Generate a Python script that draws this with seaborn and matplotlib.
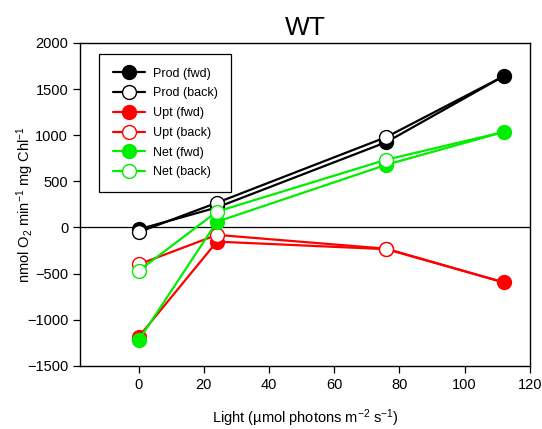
import numpy as np
import pandas as pd
import matplotlib
matplotlib.use("Agg")
import matplotlib.pyplot as plt
from matplotlib.lines import Line2D
import seaborn as sns

light = [0, 24, 76, 112]
prod_fwd = [-20, 217, 925, 1640]
prod_back = [-50, 268, 980, 1640]
upt_fwd = [-1185, -153, -235, -595]
upt_back = [-400, -80, -230, -595]
net_fwd = [-1222, 62, 680, 1035]
net_back = [-470, 172, 735, 1035]

series_names = ["Prod (fwd)", "Prod (back)", "Upt (fwd)", "Upt (back)", "Net (fwd)", "Net (back)"]
series_vals = [prod_fwd, prod_back, upt_fwd, upt_back, net_fwd, net_back]
colors = ["black", "black", "#ff0000", "#ff0000", "#00ee00", "#00ee00"]
filled = [True, False, True, False, True, False]

rows = []
for n, vals in zip(series_names, series_vals):
    for x, v in zip(light, vals):
        rows.append({"series": n, "light": x, "value": v})
df = pd.DataFrame(rows)

sns.set_theme(style="ticks")
plt.rcParams["font.family"] = ["Liberation Sans", "DejaVu Sans"]
plt.rcParams["mathtext.default"] = "regular"
plt.rcParams["text.color"] = "black"
plt.rcParams["axes.labelcolor"] = "black"

fig = plt.figure(figsize=(5.42, 4.29), dpi=100)
ax = fig.add_axes([0.1476, 0.147, 0.830, 0.753])

ax.axhline(0, color="black", lw=0.9, zorder=1)

handles = []
for n, c, f in zip(series_names, colors, filled):
    sub = df[df["series"] == n]
    kw = {}
    if not f:
        # the back sweep's last marker sits hidden under the fwd marker
        kw["markevery"] = [0, 1, 2]
    mfc = c if f else "white"
    sns.lineplot(data=sub, x="light", y="value", ax=ax, color=c, lw=1.6,
                 marker="o", markersize=10, markeredgecolor=c, markeredgewidth=1.0,
                 markerfacecolor=mfc, zorder=3, legend=False, **kw)
    handles.append(Line2D([], [], color=c, lw=1.6, marker="o", markersize=10,
                          markeredgecolor=c, markeredgewidth=1.0, markerfacecolor=mfc, label=n))

ax.set_xlim(-18, 120)
ax.set_ylim(-1500, 2000)
ax.set_xticks(np.arange(0, 121, 20))
ax.set_yticks(np.arange(-1500, 2001, 500))
ax.tick_params(axis="both", direction="out", length=5, width=0.9, labelsize=10.5,
               colors="black", labelcolor="black")
for s in ax.spines.values():
    s.set_visible(True)
    s.set_linewidth(1.0)
    s.set_color("black")

ax.set_xlabel("Light (µmol photons m$^{-2}$ s$^{-1}$)", fontsize=10.5, labelpad=11, color="black")
ax.set_ylabel("nmol O$_2$ min$^{-1}$ mg Chl$^{-1}$", fontsize=10.5, color="black")
ax.yaxis.set_label_coords(-0.097, 0.5)
ax.set_title("WT", fontsize=19, pad=6, color="black")

leg = ax.legend(handles=handles, loc="upper left", bbox_to_anchor=(0.028, 0.985), frameon=True,
                fancybox=False, edgecolor="black", framealpha=1, fontsize=9, handlelength=2.6,
                labelspacing=0.62, borderpad=1.1, handletextpad=0.6)
leg.get_frame().set_linewidth(0.9)
for t in leg.get_texts():
    t.set_color("black")

fig.savefig("out.png", dpi=100)
